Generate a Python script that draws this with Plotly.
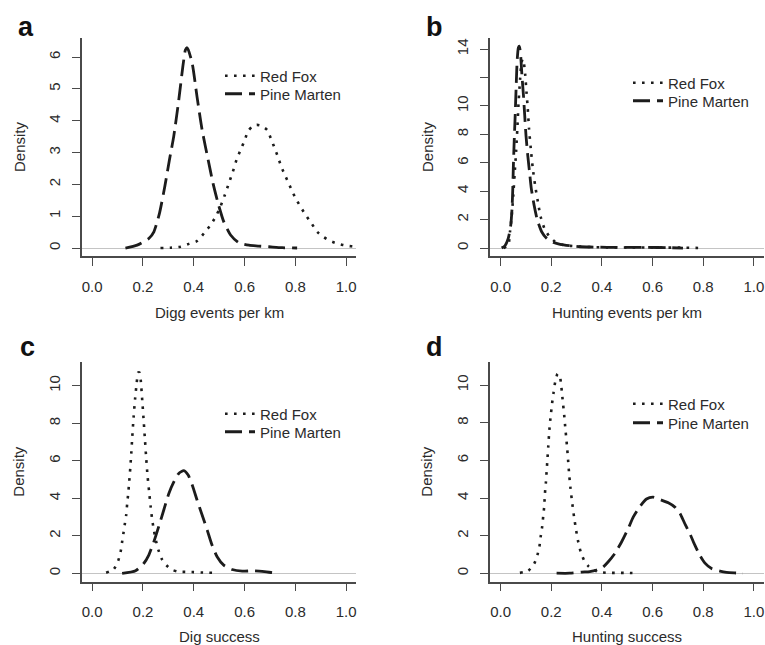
import plotly.graph_objects as go

W, H = 765, 645

# ---------------- data ----------------
# Panel a: Digg events per km
a_fox_x = [0.269, 0.308, 0.348, 0.381, 0.413, 0.44, 0.466, 0.486, 0.505, 0.522, 0.538, 0.554, 0.568,
           0.584, 0.601, 0.612, 0.630, 0.648, 0.663, 0.689, 0.706, 0.719, 0.732, 0.745, 0.759, 0.774,
           0.790, 0.807, 0.824, 0.843, 0.864, 0.886, 0.912, 0.938, 0.969, 1.004, 1.037, 1.07]
a_fox_y = [0.0, 0.01, 0.04, 0.13, 0.22, 0.46, 0.72, 0.98, 1.30, 1.66, 2.03, 2.40, 2.76,
           3.08, 3.39, 3.65, 3.82, 3.87, 3.85, 3.71, 3.39, 3.13, 2.85, 2.55, 2.29, 2.03,
           1.74, 1.48, 1.25, 1.01, 0.77, 0.51, 0.34, 0.22, 0.13, 0.07, 0.04, 0.02]
a_mar_x = [0.131, 0.177, 0.223, 0.243, 0.265, 0.286, 0.304, 0.321, 0.341, 0.357, 0.367, 0.373, 0.378,
           0.394, 0.413, 0.433, 0.457, 0.476, 0.496, 0.518, 0.545, 0.577, 0.617, 0.656, 0.696, 0.748, 0.807]
a_mar_y = [0.0, 0.09, 0.30, 0.51, 1.09, 1.93, 2.76, 3.50, 4.65, 5.70, 6.22, 6.30, 6.24,
           5.80, 4.75, 3.71, 2.76, 2.03, 1.40, 0.83, 0.41, 0.17, 0.09, 0.06, 0.04, 0.01, 0.0]

# Panel b: Hunting events per km
b_fox_x = [0.012, 0.030, 0.037, 0.044, 0.050, 0.055, 0.061, 0.066, 0.071, 0.077, 0.082, 0.087, 0.092,
           0.097, 0.102, 0.107, 0.112, 0.119, 0.127, 0.136, 0.147, 0.158, 0.173, 0.193, 0.215, 0.248,
           0.301, 0.354, 0.42, 0.50, 0.58, 0.66, 0.72, 0.786]
b_fox_y = [0.0, 0.21, 1.15, 2.32, 3.73, 5.14, 6.78, 8.42, 10.3, 11.9, 13.0, 13.3, 13.0,
           12.2, 11.0, 9.83, 8.42, 7.01, 5.6, 4.43, 3.26, 2.2, 1.38, 0.80, 0.45, 0.21,
           0.12, 0.07, 0.05, 0.04, 0.04, 0.03, 0.03, 0.0]
b_mar_x = [0.004, 0.017, 0.030, 0.040, 0.045, 0.048, 0.050, 0.053, 0.057, 0.061, 0.065, 0.070, 0.074,
           0.079, 0.084, 0.090, 0.095, 0.100, 0.107, 0.114, 0.121, 0.132, 0.145, 0.162, 0.182, 0.209,
           0.235, 0.275, 0.314, 0.367, 0.42, 0.50, 0.58, 0.66, 0.72]
b_mar_y = [0.0, 0.16, 0.68, 1.62, 2.79, 4.2, 5.6, 7.25, 9.12, 11.2, 13.1, 14.1, 14.2,
           13.58, 12.17, 10.76, 9.36, 7.95, 6.54, 5.37, 4.2, 3.03, 1.97, 1.15, 0.68, 0.40,
           0.26, 0.16, 0.09, 0.07, 0.05, 0.04, 0.04, 0.03, 0.0]

# Panel c: Dig success
c_fox_x = [0.055, 0.085, 0.102, 0.112, 0.118, 0.123, 0.129, 0.134, 0.138, 0.142, 0.146, 0.150, 0.154,
           0.158, 0.163, 0.169, 0.175, 0.181, 0.187, 0.193, 0.198, 0.203, 0.208, 0.213, 0.218, 0.224,
           0.230, 0.236, 0.243, 0.252, 0.262, 0.275, 0.292, 0.312, 0.337, 0.37, 0.40, 0.43, 0.46, 0.492]
c_fox_y = [0.04, 0.23, 0.66, 1.15, 1.69, 2.13, 2.67, 3.11, 3.73, 4.26, 4.9, 5.6, 6.4,
           7.3, 8.3, 9.3, 10.1, 10.7, 10.7, 10.0, 9.06, 8.1, 7.1, 6.1, 5.2, 4.4,
           3.6, 2.9, 2.3, 1.7, 1.2, 0.75, 0.44, 0.21, 0.10, 0.08, 0.07, 0.05, 0.04, 0.03]
c_mar_x = [0.118, 0.171, 0.203, 0.223, 0.243, 0.262, 0.282, 0.302, 0.322, 0.341, 0.361, 0.378, 0.394,
           0.413, 0.433, 0.453, 0.472, 0.492, 0.518, 0.551, 0.591, 0.630, 0.669, 0.709, 0.735]
c_mar_y = [0.0, 0.14, 0.53, 0.98, 1.69, 2.49, 3.38, 4.26, 4.89, 5.33, 5.48, 5.24, 4.71,
           3.91, 3.11, 2.31, 1.51, 0.89, 0.44, 0.21, 0.12, 0.14, 0.11, 0.04, 0.0]

# Panel d: Hunting success
d_fox_x = [0.076, 0.109, 0.133, 0.145, 0.153, 0.158, 0.164, 0.168, 0.172, 0.175, 0.179, 0.182, 0.185,
           0.188, 0.191, 0.194, 0.198, 0.203, 0.209, 0.216, 0.225, 0.234, 0.239, 0.243, 0.247, 0.251,
           0.255, 0.259, 0.263, 0.267, 0.271, 0.276, 0.283, 0.290, 0.298, 0.306, 0.316, 0.329, 0.346,
           0.366, 0.392, 0.425, 0.464, 0.497, 0.526]
d_fox_y = [0.03, 0.14, 0.53, 0.97, 1.41, 1.94, 2.48, 3.01, 3.54, 4.25, 4.87, 5.49, 6.1,
           6.72, 7.34, 7.87, 8.4, 9.0, 9.6, 10.2, 10.6, 10.45, 10.0, 9.47, 8.94, 8.4,
           7.79, 7.2, 6.6, 5.9, 5.2, 4.5, 3.7, 3.0, 2.3, 1.7, 1.15, 0.71, 0.39,
           0.18, 0.07, 0.03, 0.03, 0.03, 0.02]
d_mar_x = [0.221, 0.273, 0.32, 0.352, 0.379, 0.403, 0.425, 0.451, 0.478, 0.504, 0.524, 0.550, 0.576,
           0.602, 0.629, 0.662, 0.688, 0.708, 0.727, 0.747, 0.767, 0.786, 0.806, 0.833, 0.866, 0.892,
           0.932, 0.957]
d_mar_y = [0.01, 0.01, 0.07, 0.10, 0.18, 0.32, 0.62, 1.06, 1.68, 2.39, 3.0, 3.55, 3.95,
           4.05, 3.92, 3.75, 3.52, 3.19, 2.65, 2.12, 1.5, 0.97, 0.56, 0.26, 0.12, 0.05,
           0.02, 0.0]

panel_letters = ["a", "b", "c", "d"]
x_titles = ["Digg events per km", "Hunting events per km", "Dig success", "Hunting success"]
y_title = "Density"
series_names = ["Red Fox", "Pine Marten"]
x_ticks = [0.0, 0.2, 0.4, 0.6, 0.8, 1.0]
x_ticktext = ["0.0", "0.2", "0.4", "0.6", "0.8", "1.0"]
y_ticks = [[0, 1, 2, 3, 4, 5, 6],
           [0, 2, 4, 6, 8, 10, 12, 14],
           [0, 2, 4, 6, 8, 10],
           [0, 2, 4, 6, 8, 10]]
y_ticktext = [["0", "1", "2", "3", "4", "5", "6"],
              ["0", "2", "4", "6", "8", "10", "", "14"],
              ["0", "2", "4", "6", "8", "10"],
              ["0", "2", "4", "6", "8", "10"]]

panels = [
    (a_fox_x, a_fox_y, a_mar_x, a_mar_y),
    (b_fox_x, b_fox_y, b_mar_x, b_mar_y),
    (c_fox_x, c_fox_y, c_mar_x, c_mar_y),
    (d_fox_x, d_fox_y, d_mar_x, d_mar_y),
]

# ---------------- layout geometry (pixels) ----------------
# plot boxes: left, right, top, bottom
boxes = [(82, 356.3, 38, 256), (490, 764, 38, 256),
         (82, 356.3, 361.7, 581.7), (490, 764, 361.7, 581.7)]
x_ranges = [[-0.04, 1.04], [-0.042, 1.04], [-0.04, 1.04], [-0.042, 1.04]]
y_ranges = [[-0.251, 6.60], [-0.56, 14.78], [-0.44, 11.28], [-0.44, 11.24]]
letter_pos = [(26, 27), (434, 27), (27, 347), (434, 347)]
legend_pos = [((220, 76), (220, 94)), ((628, 83), (628, 101)),
              ((220, 414), (220, 432)), ((628, 404), (628, 423))]
xtitle_y = [312, 312, 636, 636]

FONT = "Liberation Sans, Arial, Helvetica, sans-serif"
TXT = "#2b2b2b"
AX = "#4a4a4a"
CURVE = "#1c1c1c"


def px(xp):
    return xp / W


def py(yp):
    return 1 - yp / H


fig = go.Figure()
annotations = []
layout_extra = {}

for i, (fx, fy, mx, my) in enumerate(panels):
    n = "" if i == 0 else str(i + 1)
    xa, ya = "x" + n, "y" + n
    lg1 = "legend" if i == 0 else "legend" + str(2 * i + 1)
    lg2 = "legend" + str(2 * i + 2)
    fig.add_trace(go.Scatter(x=fx, y=fy, mode="lines", name=series_names[0],
                             xaxis=xa, yaxis=ya, legend=lg1,
                             line=dict(color=CURVE, width=2.6, dash="2.6px,6.4px", shape="spline", smoothing=0.6)))
    fig.add_trace(go.Scatter(x=mx, y=my, mode="lines", name=series_names[1],
                             xaxis=xa, yaxis=ya, legend=lg2,
                             line=dict(color=CURVE, width=2.8, dash="17px,7px", shape="spline", smoothing=0.6)))
    l, r, t, b = boxes[i]
    layout_extra["xaxis" + n] = dict(
        domain=[px(l), px(r)], range=x_ranges[i], anchor=ya,
        showline=True, linecolor=AX, linewidth=1.5, mirror=False,
        showgrid=False, zeroline=False,
        ticks="outside", ticklen=8, tickwidth=1.3, tickcolor=AX,
        tickvals=x_ticks, ticktext=x_ticktext, ticklabelstandoff=8,
        tickfont=dict(family=FONT, size=15, color=TXT))
    layout_extra["yaxis" + n] = dict(
        domain=[py(b), py(t)], range=y_ranges[i], anchor=xa,
        showline=True, linecolor=AX, linewidth=1.5,
        showgrid=False, zeroline=True, zerolinecolor="#c4c4c4", zerolinewidth=1,
        ticks="outside", ticklen=8, tickwidth=1.3, tickcolor=AX,
        tickvals=y_ticks[i], ticktext=y_ticktext[i], tickangle=-90, ticklabelstandoff=6,
        tickfont=dict(family=FONT, size=15, color=TXT))
    # legends
    for j, lgname in enumerate([lg1, lg2]):
        lx, ly = legend_pos[i][j]
        layout_extra[lgname] = dict(x=px(lx), y=py(ly), xanchor="left", yanchor="middle",
                                    bgcolor="rgba(0,0,0,0)", borderwidth=0,
                                    font=dict(family=FONT, size=15, color=TXT),
                                    itemwidth=30, tracegroupgap=0)
    # panel letter
    annotations.append(dict(text="<b>" + panel_letters[i] + "</b>", x=px(letter_pos[i][0]), y=py(letter_pos[i][1]),
                            xref="paper", yref="paper", xanchor="center", yanchor="middle", showarrow=False,
                            font=dict(family=FONT, size=27, color="#111111")))
    # x title
    annotations.append(dict(text=x_titles[i], x=px((l + r) / 2), y=py(xtitle_y[i]),
                            xref="paper", yref="paper", xanchor="center", yanchor="middle", showarrow=False,
                            font=dict(family=FONT, size=15, color=TXT)))
    # y title
    annotations.append(dict(text=y_title, x=px(l - 63), y=py((t + b) / 2), textangle=-90,
                            xref="paper", yref="paper", xanchor="center", yanchor="middle", showarrow=False,
                            font=dict(family=FONT, size=15, color=TXT)))

fig.update_layout(
    width=W, height=H, margin=dict(l=0, r=0, t=0, b=0),
    paper_bgcolor="white", plot_bgcolor="white",
    showlegend=True, annotations=annotations, **layout_extra)

fig.write_html("out.html", config={"displayModeBar": False})
